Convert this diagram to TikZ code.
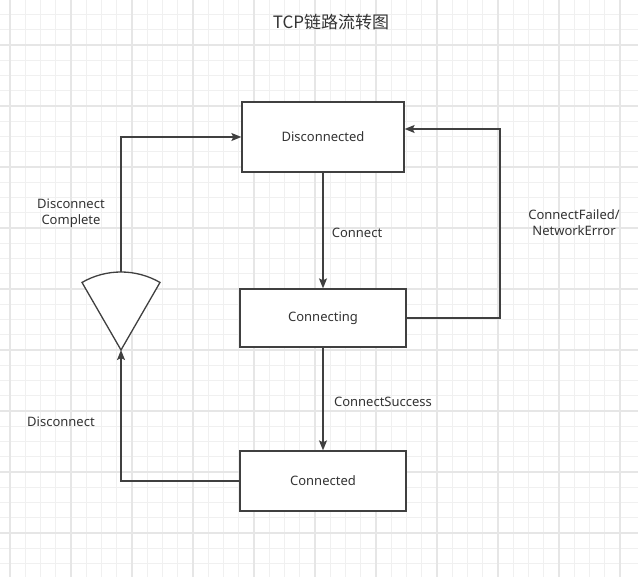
\documentclass[tikz,border=0pt]{standalone}
\usepackage{fontspec}
\setmainfont{Noto Sans}
\newfontfamily\cjk{Noto Sans CJK SC}
\usetikzlibrary{arrows.meta}
\definecolor{ink}{HTML}{404040}
\definecolor{txt}{HTML}{333333}
\definecolor{gridminor}{HTML}{F0F0F0}
\definecolor{gridmajor}{HTML}{E6E6E6}

\begin{document}
\begin{tikzpicture}[
  x=1pt, y=-1pt,
  state/.style={rectangle, draw=ink, line width=1.3pt, fill=white,
    minimum width=166pt, font=\fontsize{13}{16}\selectfont, text=txt},
  lbl/.style={font=\fontsize{13}{16}\selectfont, text=txt, align=center},
  arrow/.style={-{Stealth[length=10pt, width=8pt, inset=2pt]}, draw=ink, line width=1.3pt},
  line/.style={draw=ink, line width=1.3pt}
]
  \useasboundingbox (0,0) rectangle (638,577);
  \fill[white] (0,0) rectangle (638,577);

  % Background grid
  \foreach \i in {0,...,41} {
    \draw[gridminor, line width=1pt] ({10+15.25*(\i-1)},0) -- ({10+15.25*(\i-1)},577);
  }
  \foreach \i in {0,...,38} {
    \draw[gridminor, line width=1pt] (0,{-0.75+15.25*\i}) -- (638,{-0.75+15.25*\i});
  }
  \foreach \i in {0,...,10} {
    \draw[gridmajor, line width=1.4pt] ({10+61*\i},0) -- ({10+61*\i},577);
  }
  \foreach \i in {0,...,9} {
    \draw[gridmajor, line width=1.4pt] (0,{45+61*(\i-1)}) -- (638,{45+61*(\i-1)});
  }

  % Title
  \node[font=\cjk\fontsize{17}{19}\selectfont, text=txt] (title) at (331, 22) {TCP链路流转图};

  % States
  \node[state, minimum width=162pt, minimum height=70pt] (disc) at (323, 137) {Disconnected};
  \node[state, minimum height=58pt] (conning) at (323, 318) {Connecting};
  \node[state, minimum height=60pt] (conned) at (323, 481) {Connected};

  % Sector shape on the left
  \coordinate (tip) at (121, 350);
  \coordinate (top) at (121, 272);
  \filldraw[line, fill=white] (tip) -- ++(-120:78) arc[start angle=-120, end angle=-60, radius=78] -- cycle;

  % Transitions
  \draw[arrow] (disc) -- (conning);
  \draw[arrow] (conning) -- (conned);
  \draw[arrow] (conning.east) -| (500, 129) -- (disc.east |- 0,129);
  \draw[arrow] (conned.west) -| (tip);
  \draw[arrow] (top) |- (disc.west);

  % Labels
  \node[lbl] (lconnect) at (357, 233) {Connect};
  \node[lbl] (lfailed) at (574, 223) {ConnectFailed/\\NetworkError};
  \node[lbl] (lsuccess) at (383, 402) {ConnectSuccess};
  \node[lbl] (ldisc) at (61, 422) {Disconnect};
  \node[lbl] (ldone) at (71, 213) {Disconnect\\Complete};
\end{tikzpicture}
\end{document}
